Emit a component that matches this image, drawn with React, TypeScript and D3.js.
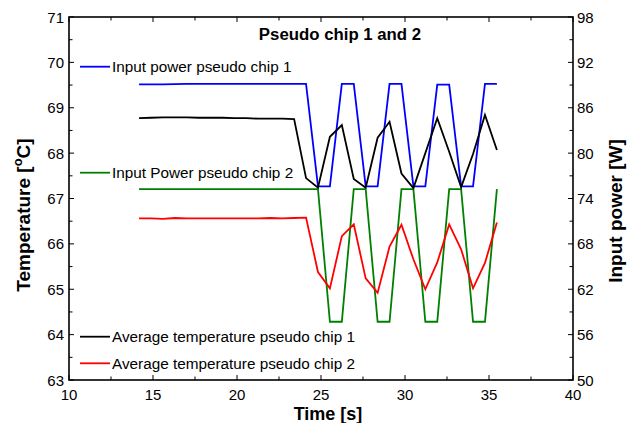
import React from "react";
import * as d3 from "d3";

// Sample times [s]
const times = [
  14.17, 14.88, 15.59, 16.3, 17.01, 17.72, 18.43, 19.14, 19.85, 20.56, 21.27,
  21.98, 22.69, 23.4, 24.11, 24.82, 25.53, 26.24, 26.95, 27.66, 28.37, 29.08,
  29.79, 30.5, 31.21, 31.92, 32.63, 33.34, 34.05, 34.76, 35.47,
];

// Input power [W] (right axis)
const powerChip1 = [
  89.1, 89.1, 89.1, 89.12, 89.15, 89.15, 89.15, 89.15, 89.15, 89.15, 89.15,
  89.15, 89.15, 89.15, 89.15, 75.6, 75.6, 89.15, 89.15, 75.6, 75.6, 89.15,
  89.15, 75.6, 75.6, 89.05, 89.05, 75.6, 75.6, 89.15, 89.15,
];
const powerChip2 = [
  75.25, 75.25, 75.25, 75.25, 75.25, 75.25, 75.25, 75.25, 75.25, 75.25, 75.25,
  75.25, 75.25, 75.25, 75.25, 75.25, 57.7, 57.7, 75.25, 75.25, 57.7, 57.7,
  75.25, 75.25, 57.7, 57.7, 75.25, 75.25, 57.7, 57.7, 75.25,
];

// Average temperature [°C] (left axis)
const tempChip1 = [
  68.77, 68.78, 68.79, 68.79, 68.79, 68.78, 68.78, 68.78, 68.77, 68.77, 68.76,
  68.76, 68.76, 68.75, 67.45, 67.24, 68.36, 68.62, 67.43, 67.24, 68.34, 68.69,
  67.55, 67.23, 68.0, 68.77, 68.03, 67.25, 67.98, 68.84, 68.07,
];
const tempChip2 = [
  66.56, 66.56, 66.55, 66.57, 66.56, 66.56, 66.56, 66.56, 66.56, 66.56, 66.56,
  66.57, 66.56, 66.57, 66.58, 65.38, 65.02, 66.17, 66.43, 65.24, 64.92, 65.94,
  66.42, 65.66, 65.0, 65.59, 66.43, 65.88, 65.02, 65.58, 66.47,
];

const xTicks = [10, 15, 20, 25, 30, 35, 40];
const xMinorTicks = [12.5, 17.5, 22.5, 27.5, 32.5, 37.5];
const tempTicks = [63, 64, 65, 66, 67, 68, 69, 70, 71];
const tempMinorTicks = [63.5, 64.5, 65.5, 66.5, 67.5, 68.5, 69.5, 70.5];
const powerTicks = [50, 56, 62, 68, 74, 80, 86, 92, 98];
const powerMinorTicks = [53, 59, 65, 71, 77, 83, 89, 95];

const legendItems = [
  { label: "Input power pseudo chip 1", color: "#0000ff", y: 66.7 },
  { label: "Input Power pseudo chip 2", color: "#008000", y: 172.7 },
  { label: "Average temperature pseudo chip 1", color: "#000000", y: 336.7 },
  { label: "Average temperature pseudo chip 2", color: "#ff0000", y: 363.3 },
];

const W = 627;
const H = 423;
const left = 69;
const right = 573;
const top = 17;
const bottom = 380;
const font = "'Liberation Sans', Arial, sans-serif";

export default function App() {
  const x = d3.scaleLinear().domain([10, 40]).range([left, right]);
  const yT = d3.scaleLinear().domain([63, 71]).range([bottom, top]);
  const yP = d3.scaleLinear().domain([50, 98]).range([bottom, top]);

  const lineT = (vals: number[]) =>
    d3
      .line<number>()
      .x((_, i) => x(times[i]))
      .y((v) => yT(v))(vals) as string;
  const lineP = (vals: number[]) =>
    d3
      .line<number>()
      .x((_, i) => x(times[i]))
      .y((v) => yP(v))(vals) as string;

  const major = 5;
  const minor = 3.5;

  return (
    <svg
      width={W}
      height={H}
      style={{ position: "absolute", left: 0, top: 0, background: "#fff" }}
      fontFamily={font}
    >
      <rect x={0} y={0} width={W} height={H} fill="#fff" />

      {/* data lines */}
      <g fill="none" strokeWidth={1.8} strokeLinejoin="miter">
        <path d={lineP(powerChip1)} stroke="#0000ff" />
        <path d={lineP(powerChip2)} stroke="#008000" />
        <path d={lineT(tempChip1)} stroke="#000000" />
        <path d={lineT(tempChip2)} stroke="#ff0000" />
      </g>

      {/* frame */}
      <rect
        x={left}
        y={top}
        width={right - left}
        height={bottom - top}
        fill="none"
        stroke="#000"
        strokeWidth={1.6}
      />

      {/* ticks, all pointing inward */}
      <g stroke="#000" strokeWidth={1}>
        {xTicks.map((t) => (
          <g key={"xt" + t}>
            <line x1={x(t)} x2={x(t)} y1={bottom} y2={bottom - major} />
            <line x1={x(t)} x2={x(t)} y1={top} y2={top + major} />
          </g>
        ))}
        {xMinorTicks.map((t) => (
          <g key={"xm" + t}>
            <line x1={x(t)} x2={x(t)} y1={bottom} y2={bottom - minor} />
            <line x1={x(t)} x2={x(t)} y1={top} y2={top + minor} />
          </g>
        ))}
        {tempTicks.map((t) => (
          <line key={"yt" + t} x1={left} x2={left + major} y1={yT(t)} y2={yT(t)} />
        ))}
        {tempMinorTicks.map((t) => (
          <line key={"ym" + t} x1={left} x2={left + minor} y1={yT(t)} y2={yT(t)} />
        ))}
        {powerTicks.map((t) => (
          <line key={"pt" + t} x1={right} x2={right - major} y1={yP(t)} y2={yP(t)} />
        ))}
        {powerMinorTicks.map((t) => (
          <line key={"pm" + t} x1={right} x2={right - minor} y1={yP(t)} y2={yP(t)} />
        ))}
      </g>

      {/* tick labels */}
      <g fontSize={15} fill="#000">
        {xTicks.map((t) => (
          <text key={"xl" + t} x={x(t)} y={399.5} textAnchor="middle">
            {t}
          </text>
        ))}
        {tempTicks.map((t) => (
          <text key={"yl" + t} x={64} y={yT(t) + 5.5} textAnchor="end">
            {t}
          </text>
        ))}
        {powerTicks.map((t) => (
          <text key={"pl" + t} x={577} y={yP(t) + 5.5} textAnchor="start">
            {t}
          </text>
        ))}
      </g>

      {/* axis titles */}
      <text x={328} y={420} textAnchor="middle" fontSize={18} fontWeight="bold">
        Time [s]
      </text>
      <text
        transform="translate(30,215) rotate(-90)"
        textAnchor="middle"
        fontSize={19}
        fontWeight="bold"
      >
        Temperature [
        <tspan dy={-8} fontSize={13}>
          o
        </tspan>
        <tspan dy={8}>C]</tspan>
      </text>
      <text
        transform="translate(622,211) rotate(-90)"
        textAnchor="middle"
        fontSize={19}
        fontWeight="bold"
      >
        Input power [W]
      </text>

      {/* title */}
      <text x={340} y={40} textAnchor="middle" fontSize={16.8} fontWeight="bold">
        Pseudo chip 1 and 2
      </text>

      {/* legend */}
      <g fontSize={15.3}>
        {legendItems.map((it) => (
          <g key={it.label}>
            <line
              x1={80}
              x2={110}
              y1={it.y}
              y2={it.y}
              stroke={it.color}
              strokeWidth={1.8}
            />
            <text x={112} y={it.y + 5.6} fill="#000">
              {it.label}
            </text>
          </g>
        ))}
      </g>
    </svg>
  );
}
